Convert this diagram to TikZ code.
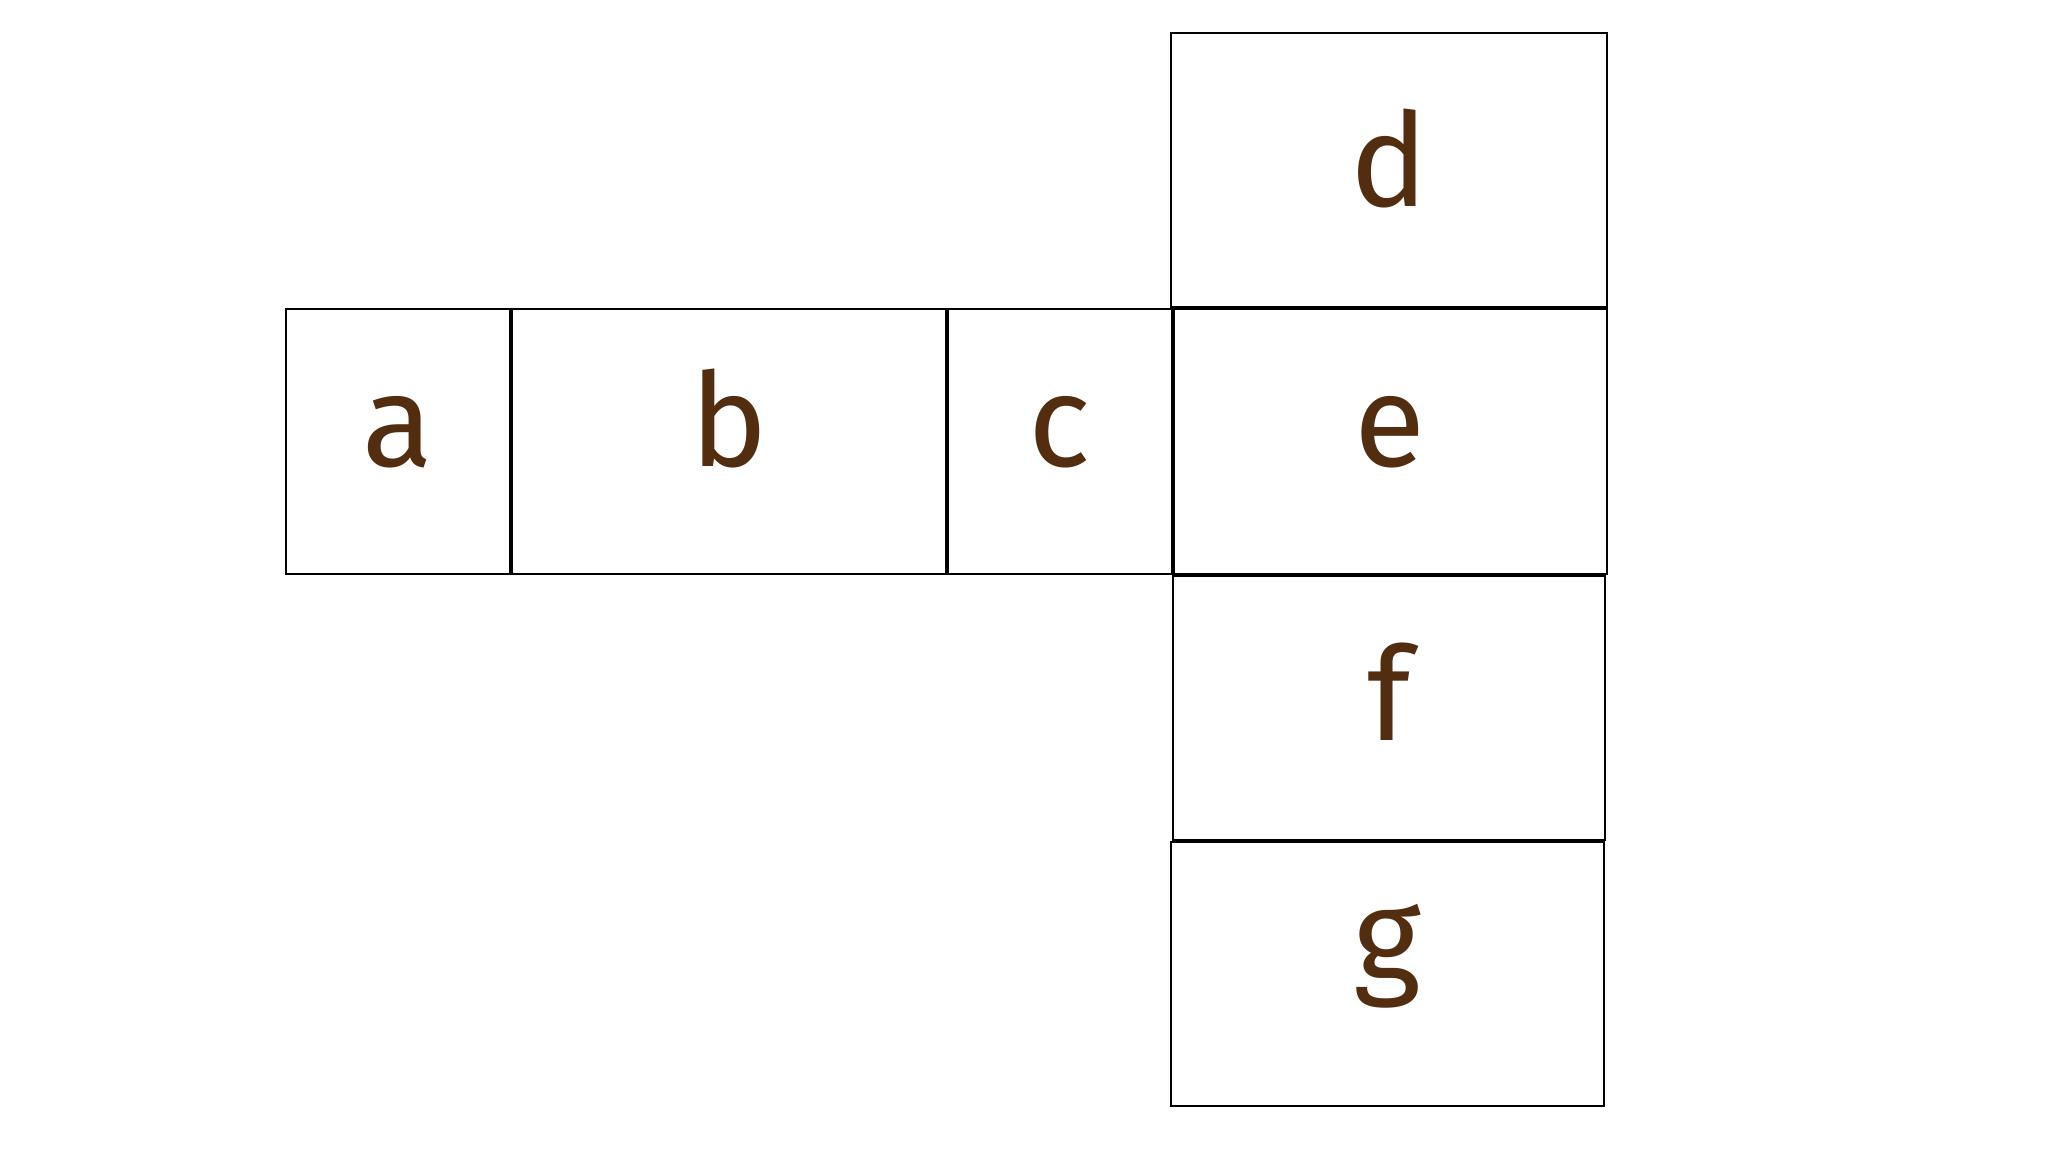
\documentclass[tikz,border=0pt]{standalone}
\usepackage{fontspec}
\setmainfont{Fira Sans}
\definecolor{letterbrown}{RGB}{82,45,15}
\begin{document}
\begin{tikzpicture}[x=0.01cm,y=-0.01cm,
  box/.style={draw=black,line width=0.6pt,rectangle,inner sep=0pt,
    font=\fontsize{37}{44}\selectfont,text=letterbrown,
    text height=27pt,text depth=12.8pt},
  boxhi/.style={box,text depth=8.8pt},
  boxg/.style={box,text depth=23.6pt}]
\useasboundingbox (0,0) rectangle (2048,1152);
\fill[white] (0,0) rectangle (2048,1152);
\node[box,minimum width=2.235cm,minimum height=2.64cm] (a) at (397.75,441.5) {a};
\node[box,minimum width=4.34cm,minimum height=2.64cm] (b) at (729,441.5) {b};
\node[box,minimum width=2.24cm,minimum height=2.64cm] (c) at (1059.5,441.5) {c};
\node[boxhi,text depth=6.5pt,minimum width=4.35cm,minimum height=2.735cm] (d) at (1389,170.25) {d};
\node[box,minimum width=4.325cm,minimum height=2.64cm] (e) at (1390.25,441.5) {e};
\node[boxhi,minimum width=4.32cm,minimum height=2.64cm] (f) at (1389,708) {f};
\node[boxg,minimum width=4.325cm,minimum height=2.635cm] (g) at (1387.75,974.25) {g};
\end{tikzpicture}
\end{document}
